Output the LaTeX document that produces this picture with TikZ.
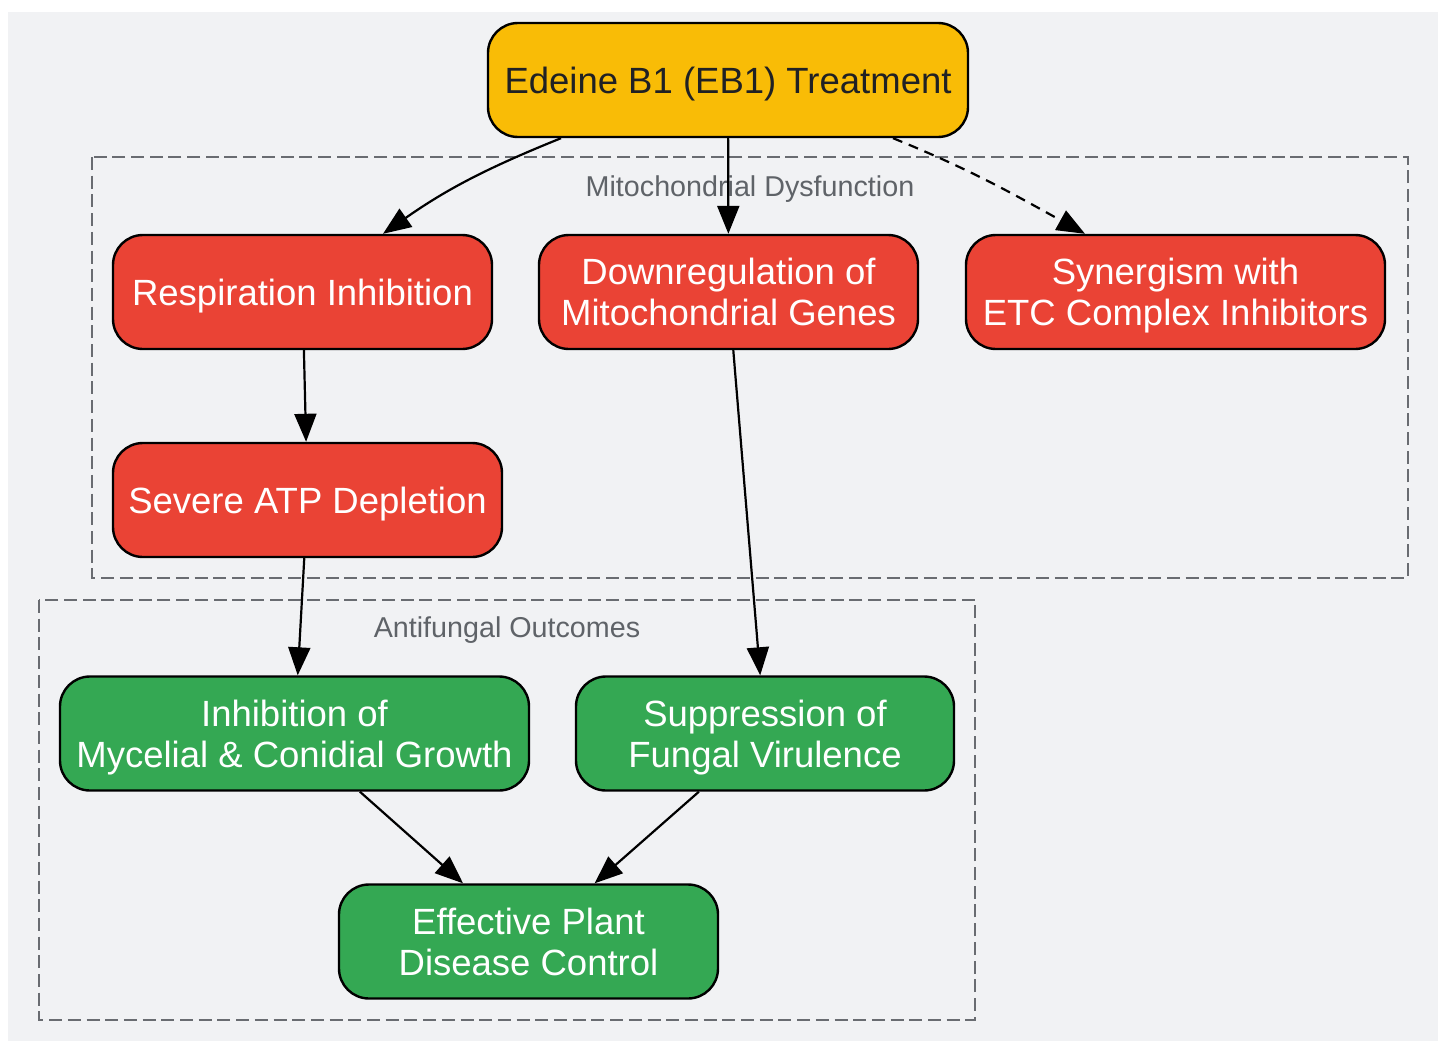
\documentclass[tikz,border=0pt]{standalone}
\usepackage{fontspec}
\setmainfont{Liberation Sans}
\usepackage{tikz}
\usetikzlibrary{shapes,arrows.meta}

\definecolor{bgcol}{HTML}{F1F2F4}
\definecolor{ebyellow}{HTML}{F9BC06}
\definecolor{mitored}{HTML}{EA4335}
\definecolor{fungreen}{HTML}{34A853}
\definecolor{clusterline}{HTML}{696C71}
\definecolor{clustertext}{HTML}{5F6368}
\definecolor{darktext}{HTML}{202124}

\begin{document}
\begin{tikzpicture}[x=1pt, y=-1pt, >={Triangle[length=28pt,width=22pt]},
    box/.style={draw=black, line width=2.4pt, rounded corners=30pt, minimum height=114pt,
        inner sep=0pt, align=center, text depth=-3pt, font=\fontsize{36.5pt}{41pt}\selectfont},
    treatbox/.style={box, fill=ebyellow, text=darktext},
    mitobox/.style={box, fill=mitored, text=white},
    fungbox/.style={box, fill=fungreen, text=white},
    link/.style={->, line width=2.2pt},
    cluster/.style={draw=clusterline, line width=2.6pt, dash pattern=on 13pt off 5.7pt},
    clusterlabel/.style={text=clustertext, inner sep=0pt, text depth=0pt, font=\fontsize{28.7pt}{32pt}\selectfont}]
		% Page and background
		\useasboundingbox (0,0) rectangle (1445,1041);
		\fill[bgcol] (8,12) rectangle (1438,1041);

		% Clusters
		\draw[cluster] (92,157) rectangle (1408,578);
		\node[clusterlabel] (mitolabel) at (750,186) {Mitochondrial Dysfunction};
		\draw[cluster] (39,600) rectangle (975,1020);
		\node[clusterlabel] (funglabel) at (507,627) {Antifungal Outcomes};

		% Treatment
		\node[treatbox, minimum width=480pt] (eb1) at (728,80) {Edeine B1 (EB1) Treatment};

		% Mitochondrial dysfunction
		\node[mitobox, minimum width=379pt] (resp) at (302.5,292) {Respiration Inhibition};
		\node[mitobox, minimum width=379pt] (downreg) at (728.5,292) {Downregulation of\\Mitochondrial Genes};
		\node[mitobox, minimum width=419pt] (synerg) at (1175.5,292) {Synergism with\\ETC Complex Inhibitors};
		\node[mitobox, minimum width=389pt] (atp) at (307.5,500) {Severe ATP Depletion};

		% Antifungal outcomes
		\node[fungbox, minimum width=469pt] (growth) at (294.5,733.5) {Inhibition of\\Mycelial \& Conidial Growth};
		\node[fungbox, minimum width=378pt] (virul) at (765,733.5) {Suppression of\\Fungal Virulence};
		\node[fungbox, minimum width=379pt] (control) at (528.5,941.5) {Effective Plant\\Disease Control};

		% Links
		\draw[link] ([xshift=-167pt]eb1.south) to[out=-158,in=35] ([xshift=80.5pt]resp.north);
		\draw[link] (eb1) -- (downreg);
		\draw[link, dash pattern=on 10pt off 7pt] ([xshift=165pt]eb1.south) to[out=-22,in=151] ([xshift=-90.5pt]synerg.north);
		\draw[link] (resp) -- (atp);
		\draw[link] (atp) -- (growth);
		\draw[link] (downreg) -- (virul);
		\draw[link] (growth) -- (control);
		\draw[link] (virul) -- (control);
	\end{tikzpicture}
\end{document}
